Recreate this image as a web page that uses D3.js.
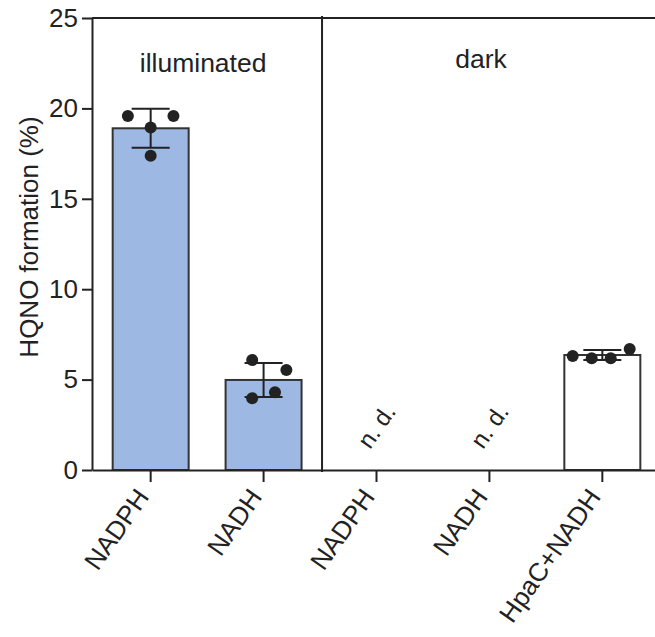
<!DOCTYPE html>
<html>
<head>
<meta charset="utf-8">
<script src="https://cdn.jsdelivr.net/npm/d3@7"></script>
<style>
  body { margin: 0; background: #fff; }
  text { font-family: "Liberation Sans", Arial, sans-serif; fill: #222; }
</style>
</head>
<body>
<div id="chart"></div>
<script>
// data
var groups = ["illuminated", "illuminated", "dark", "dark", "dark"];
var tickLabels = ["NADPH", "NADH", "NADPH", "NADH", "HpaC+NADH"];
var means = [18.9, 4.98, null, null, 6.36];   // null = not detected
var sds = [1.08, 0.94, null, null, 0.28];
var replicates = [
    [19.58, 19.58, 18.95, 17.38],
    [6.08, 5.53, 3.97, 4.30],
    [],
    [],
    [6.31, 6.18, 6.18, 6.69]
];
var jitter = [ // horizontal spread of the dots, fraction of bar width
    [-0.30, 0.30, 0, 0],
    [-0.15, 0.30, -0.15, 0.15],
    [],
    [],
    [-0.39, -0.14, 0.11, 0.36]
];
var fills = ["#9db8e2", "#9db8e2", "#fff", "#fff", "#fff"];
var yTicks = [0, 5, 10, 15, 20, 25];

var svgWidth = 655, svgHeight = 637;
// note: "top" is reserved on window, so use plot* names
var plotLeft = 92, plotRight = 661, plotTop = 18, plotBottom = 470;
var ink = "#222";

var svg = d3.select("#chart").append("svg")
    .attr("width", svgWidth)
    .attr("height", svgHeight);

var idx = d3.range(tickLabels.length);

var x = d3.scaleBand()
    .domain(idx)
    .range([plotLeft, plotRight])
    .paddingInner(0.327)
    .paddingOuter(0.183);

var y = d3.scaleLinear()
    .domain([0, 25])
    .range([plotBottom, plotTop]);

// bars
svg.selectAll(".bar")
    .data(idx.filter(function(i) { return means[i] !== null; }))
    .enter().append("rect")
    .attr("class", "bar")
    .attr("x", function(i) { return x(i); })
    .attr("y", function(i) { return y(means[i]); })
    .attr("width", x.bandwidth())
    .attr("height", function(i) { return y(0) - y(means[i]); })
    .attr("fill", function(i) { return fills[i]; })
    .attr("stroke", "#333")
    .attr("stroke-width", 2);

// frame (top + right) and divider
svg.append("line")
    .attr("x1", plotLeft).attr("x2", plotRight)
    .attr("y1", plotTop).attr("y2", plotTop)
    .attr("stroke", ink).attr("stroke-width", 2);
svg.append("line")
    .attr("x1", plotRight).attr("x2", plotRight)
    .attr("y1", plotTop).attr("y2", plotBottom)
    .attr("stroke", ink).attr("stroke-width", 2);

var divX = (x(1) + x.bandwidth() + x(2)) / 2 + 2;
svg.append("line")
    .attr("x1", divX).attr("x2", divX)
    .attr("y1", plotTop - 2).attr("y2", plotBottom + 2)
    .attr("stroke", ink).attr("stroke-width", 2);

// error bars
var capHalf = x.bandwidth() / 4;
var errs = svg.selectAll(".err")
    .data(idx.filter(function(i) { return sds[i] !== null; }))
    .enter().append("g")
    .attr("class", "err")
    .attr("stroke", ink)
    .attr("stroke-width", 2);
errs.append("line")
    .attr("x1", function(i) { return x(i) + x.bandwidth() / 2; })
    .attr("x2", function(i) { return x(i) + x.bandwidth() / 2; })
    .attr("y1", function(i) { return y(means[i] + sds[i]); })
    .attr("y2", function(i) { return y(means[i] - sds[i]); });
errs.append("line")
    .attr("x1", function(i) { return x(i) + x.bandwidth() / 2 - capHalf; })
    .attr("x2", function(i) { return x(i) + x.bandwidth() / 2 + capHalf; })
    .attr("y1", function(i) { return y(means[i] + sds[i]); })
    .attr("y2", function(i) { return y(means[i] + sds[i]); });
errs.append("line")
    .attr("x1", function(i) { return x(i) + x.bandwidth() / 2 - capHalf; })
    .attr("x2", function(i) { return x(i) + x.bandwidth() / 2 + capHalf; })
    .attr("y1", function(i) { return y(means[i] - sds[i]); })
    .attr("y2", function(i) { return y(means[i] - sds[i]); });

// replicate dots
var dots = [];
idx.forEach(function(i) {
    replicates[i].forEach(function(v, k) {
        dots.push({ cat: i, value: v, off: jitter[i][k] });
    });
});
svg.selectAll(".dot")
    .data(dots)
    .enter().append("circle")
    .attr("class", "dot")
    .attr("cx", function(d) { return x(d.cat) + x.bandwidth() / 2 + d.off * x.bandwidth(); })
    .attr("cy", function(d) { return y(d.value); })
    .attr("r", 6)
    .attr("fill", ink);

// n. d. labels
idx.filter(function(i) { return means[i] === null; }).forEach(function(i) {
    svg.append("text")
        .attr("transform", "translate(" + (x(i) + x.bandwidth() / 2) + "," + (plotBottom - 44) + ") rotate(-55)")
        .attr("text-anchor", "middle")
        .attr("dy", "0.35em")
        .style("font-size", "24px")
        .text("n. d.");
});

// axes
var xAxis = svg.append("g")
    .attr("class", "axis x-axis")
    .attr("transform", "translate(0," + plotBottom + ")")
    .call(d3.axisBottom(x).tickSize(12).tickSizeOuter(0).tickFormat(function(i) { return tickLabels[i]; }));
xAxis.select(".domain").attr("stroke", ink).attr("stroke-width", 2);
xAxis.selectAll(".tick line").attr("stroke", ink).attr("stroke-width", 2);
xAxis.selectAll(".tick text")
    .style("font-size", "26px")
    .attr("fill", ink)
    .attr("text-anchor", "end")
    .attr("dy", null)
    .attr("y", 0)
    .attr("transform", "translate(-8,22) rotate(-55)")
    .attr("dominant-baseline", "central");

var yAxis = svg.append("g")
    .attr("class", "axis y-axis")
    .attr("transform", "translate(" + plotLeft + ",0)")
    .call(d3.axisLeft(y).tickValues(yTicks).tickSize(10).tickSizeOuter(0).tickPadding(4));
yAxis.select(".domain").attr("stroke", ink).attr("stroke-width", 2);
yAxis.selectAll(".tick line").attr("stroke", ink).attr("stroke-width", 2);
yAxis.selectAll(".tick text")
    .style("font-size", "26px")
    .attr("fill", ink);

svg.append("text")
    .attr("transform", "translate(29,237) rotate(-90)")
    .attr("text-anchor", "middle")
    .attr("dy", "0.35em")
    .style("font-size", "26px")
    .text("HQNO formation (%)");

// group captions
svg.append("text")
    .attr("x", (x(0) + x(1) + x.bandwidth()) / 2 - 4)
    .attr("y", 72)
    .attr("text-anchor", "middle")
    .style("font-size", "26.5px")
    .text(groups[0]);
svg.append("text")
    .attr("x", 481)
    .attr("y", 68)
    .attr("text-anchor", "middle")
    .style("font-size", "26.5px")
    .text(groups[2]);
</script>
</body>
</html>
